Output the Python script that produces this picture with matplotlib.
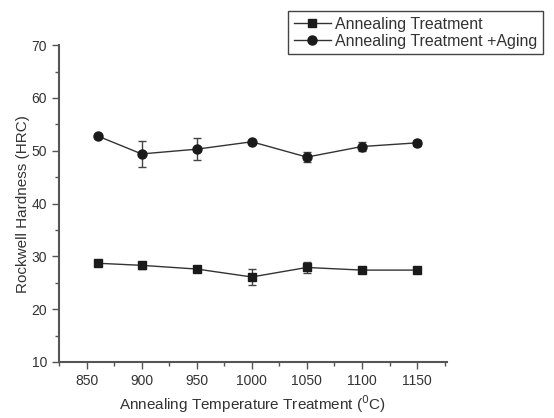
import matplotlib
matplotlib.use("Agg")
import matplotlib.pyplot as plt
from matplotlib.lines import Line2D
from matplotlib.ticker import MultipleLocator

plt.rcParams['font.family'] = ['Liberation Sans', 'DejaVu Sans']

temps = [860, 900, 950, 1000, 1050, 1100, 1150]
hrc_annealing = [28.7, 28.3, 27.6, 26.1, 27.9, 27.4, 27.4]
err_annealing = [0.6, 0.6, 0.6, 1.6, 1.0, 0.2, 0.2]
hrc_aging = [52.8, 49.4, 50.3, 51.7, 48.8, 50.8, 51.5]
err_aging = [0.2, 2.5, 2.1, 0.4, 0.9, 0.9, 0.6]

gris = '#555555'
fig = plt.figure(figsize=(5.54, 4.18), dpi=100)
ax = fig.add_axes([0.1065, 0.134, 0.70, 0.758])

estilo = dict(color='#333333', linewidth=1, capsize=3, elinewidth=1, ecolor='#444444',
              markerfacecolor='#1a1a1a', markeredgecolor='#1a1a1a')
ax.errorbar(temps, hrc_annealing, yerr=err_annealing, marker='s', markersize=6, **estilo)
ax.errorbar(temps, hrc_aging, yerr=err_aging, marker='o', markersize=6.5, **estilo)

ax.set_xlim(825, 1177)
ax.set_ylim(10, 70)
ax.xaxis.set_major_locator(MultipleLocator(50))
ax.xaxis.set_minor_locator(MultipleLocator(25))
ax.yaxis.set_major_locator(MultipleLocator(10))
ax.yaxis.set_minor_locator(MultipleLocator(5))

for s in ['top', 'right']:
    ax.spines[s].set_visible(False)
for s in ['left', 'bottom']:
    ax.spines[s].set_color(gris)
    ax.spines[s].set_linewidth(1.5)
ax.tick_params(which='both', direction='out', color=gris, labelcolor='#333333', labelsize=10)
ax.tick_params(which='major', length=5, width=1)
ax.tick_params(which='minor', length=3, width=1)

ax.set_xlabel('Annealing Temperature Treatment ($^0$C)', fontsize=11, color='#333333')
ax.set_ylabel('Rockwell Hardness (HRC)', fontsize=11, color='#333333', labelpad=1)

h1 = Line2D([], [], color='#333333', lw=1, marker='s', markersize=6,
            markerfacecolor='#1a1a1a', markeredgecolor='#1a1a1a')
h2 = Line2D([], [], color='#333333', lw=1, marker='o', markersize=6.5,
            markerfacecolor='#1a1a1a', markeredgecolor='#1a1a1a')
leg = fig.legend([h1, h2], ['Annealing Treatment', 'Annealing Treatment +Aging'],
                 loc='upper right', bbox_to_anchor=(0.995, 0.993), fontsize=11.5,
                 fancybox=False, edgecolor='#444444', framealpha=1,
                 handlelength=2.3, borderpad=0.35, labelspacing=0.15, handletextpad=0.3)
leg.get_frame().set_linewidth(1)
for t in leg.get_texts():
    t.set_color('#333333')

fig.savefig('out.png', dpi=100)
